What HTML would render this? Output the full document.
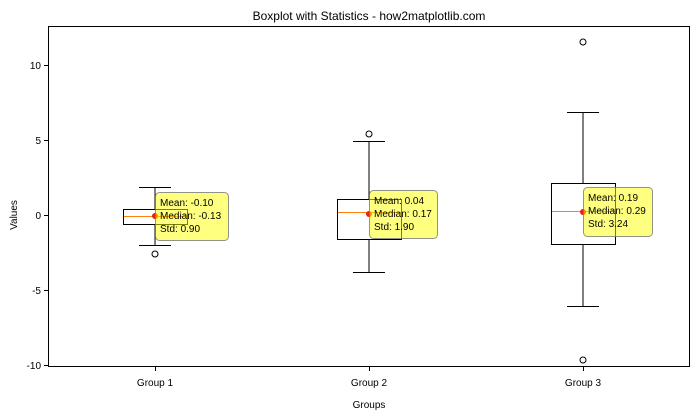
<!DOCTYPE html>
<html><head><style>body{margin:0;background:#fff}svg{display:block}</style></head><body>
<svg width="700" height="420" xmlns="http://www.w3.org/2000/svg" font-family="Liberation Sans, DejaVu Sans, sans-serif">
<rect width="700" height="420" fill="#fff"/>
<text x="369" y="20" font-size="12" text-anchor="middle">Boxplot with Statistics - how2matplotlib.com</text>
<g stroke="#000" stroke-width="1" fill="none">
<!-- group1 -->
<line x1="155" y1="187.5" x2="155" y2="209.5"/><line x1="155" y1="224.5" x2="155" y2="245.5"/>
<line x1="139" y1="187.5" x2="171" y2="187.5"/><line x1="139" y1="245.5" x2="171" y2="245.5"/>
<rect x="123.5" y="209.5" width="64" height="15"/>
<circle cx="155" cy="254" r="3"/>
<!-- group2 -->
<line x1="369" y1="141.5" x2="369" y2="199.5"/><line x1="369" y1="239.5" x2="369" y2="272.5"/>
<line x1="353" y1="141.5" x2="385" y2="141.5"/><line x1="353" y1="272.5" x2="385" y2="272.5"/>
<rect x="337.5" y="199.5" width="64" height="40"/>
<circle cx="369" cy="134" r="3"/>
<!-- group3 -->
<line x1="583" y1="112.5" x2="583" y2="183.5"/><line x1="583" y1="244.5" x2="583" y2="306.5"/>
<line x1="567" y1="112.5" x2="599" y2="112.5"/><line x1="567" y1="306.5" x2="599" y2="306.5"/>
<rect x="551.5" y="183.5" width="64" height="61"/>
<circle cx="583" cy="42" r="3"/><circle cx="583" cy="360" r="3"/>
</g>
<g stroke="#ff7f0e" stroke-width="1">
<line x1="124" y1="216.5" x2="187" y2="216.5"/>
<line x1="338" y1="212.5" x2="401" y2="212.5"/>
<line x1="552" y1="211.5" x2="615" y2="211.5"/>
</g>
<g fill="#e8200c"><circle cx="155" cy="216" r="3"/><circle cx="369" cy="214" r="3"/><circle cx="583" cy="212" r="3"/></g>
<g fill="#ffff00" fill-opacity="0.5" stroke="#777" stroke-opacity="0.8">
<rect x="155.5" y="192.5" width="73" height="48" rx="4"/>
<rect x="369.5" y="190.5" width="68" height="48" rx="4"/>
<rect x="583.5" y="187.5" width="69" height="49" rx="4"/>
</g>
<g font-size="10" fill="#000">
<text x="160" y="206">Mean: -0.10</text><text x="160" y="219">Median: -0.13</text><text x="160" y="232">Std: 0.90</text>
<text x="374" y="204">Mean: 0.04</text><text x="374" y="217">Median: 0.17</text><text x="374" y="230">Std: 1.90</text>
<text x="588" y="201">Mean: 0.19</text><text x="588" y="214">Median: 0.29</text><text x="588" y="227">Std: 3.24</text>
</g>
<rect x="48.5" y="26.5" width="641" height="340" fill="none" stroke="#000"/>
<g stroke="#000"><line x1="44" y1="65.5" x2="48" y2="65.5"/><line x1="44" y1="140.5" x2="48" y2="140.5"/><line x1="44" y1="215.5" x2="48" y2="215.5"/><line x1="44" y1="290.5" x2="48" y2="290.5"/><line x1="44" y1="365.5" x2="48" y2="365.5"/>
<line x1="155.5" y1="367" x2="155.5" y2="371"/><line x1="369.5" y1="367" x2="369.5" y2="371"/><line x1="583.5" y1="367" x2="583.5" y2="371"/></g>
<g font-size="10" text-anchor="end"><text x="41" y="69">10</text><text x="41" y="144">5</text><text x="41" y="219">0</text><text x="41" y="294">-5</text><text x="41" y="369">-10</text></g>
<g font-size="10" text-anchor="middle"><text x="155" y="386">Group 1</text><text x="369" y="386">Group 2</text><text x="583" y="386">Group 3</text>
<text x="369" y="408">Groups</text>
<text transform="translate(17,215) rotate(-90)">Values</text></g>
</svg>
</body></html>
